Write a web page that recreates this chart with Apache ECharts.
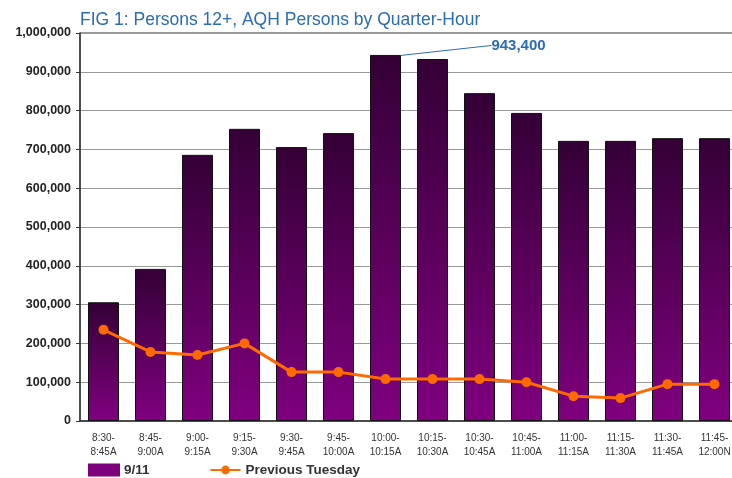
<!DOCTYPE html>
<html>
<head>
<meta charset="utf-8">
<script src="https://cdn.jsdelivr.net/npm/echarts@6/dist/echarts.min.js"></script>
<style>
  html, body { margin: 0; padding: 0; background: #fff; }
  #chart { width: 732px; height: 478px; }
</style>
</head>
<body>
<div id="chart"></div>
<script>
// quarter-hour slots
const categories = [
  "8:30-\n8:45A", "8:45-\n9:00A", "9:00-\n9:15A", "9:15-\n9:30A", "9:30-\n9:45A",
  "9:45-\n10:00A", "10:00-\n10:15A", "10:15-\n10:30A", "10:30-\n10:45A", "10:45-\n11:00A",
  "11:00-\n11:15A", "11:15-\n11:30A", "11:30-\n11:45A", "11:45-\n12:00N"
];
const sept11 = [
  306000, 392000, 686000, 753000, 706000, 742000, 943400,
  933000, 845000, 794000, 722000, 722000, 729000, 729000
];
const prevTuesday = [
  235000, 178000, 170000, 200000, 126000, 126000, 108000,
  108000, 108000, 100000, 64000, 59000, 95000, 95000
];
const peakIndex = 6;

const chart = echarts.init(document.getElementById("chart"));

const barData = sept11.map((v, i) => {
  if (i !== peakIndex) return v;
  return {
    value: v,
    label: {
      show: true,
      position: "top",
      formatter: (p) => p.value.toLocaleString("en-US"),
      color: "#2a6db3",
      fontWeight: "bold",
      fontSize: 15,
      fontFamily: "Arial",
    },
    labelLine: { show: true, lineStyle: { color: "#2a6db3", width: 1 } },
  };
});

chart.setOption({
  animation: false,
  title: {
    text: "FIG 1: Persons 12+, AQH Persons by Quarter-Hour",
    left: 75,
    top: 6,
    textStyle: {
      color: "#2a6db3",
      fontSize: 17.5,
      fontWeight: "normal",
      fontFamily: "Arial",
    },
  },
  grid: {
    left: 80,
    top: 33,
    width: 658,
    height: 388,
    outerBoundsMode: "none",
    show: true,
    borderColor: "#333",
    borderWidth: 1,
  },
  legend: {
    left: 88,
    top: 463,
    padding: 0,
    itemWidth: 30,
    itemHeight: 11,
    itemGap: 60,
    textStyle: {
      color: "#333",
      fontSize: 13.5,
      fontWeight: "bold",
      fontFamily: "Arial",
    },
    data: [
      { name: "9/11", icon: "rect", itemStyle: { color: "#7d007d", borderColor: "#7d007d" } },
      { name: "Previous Tuesday" },
    ],
  },
  xAxis: {
    type: "category",
    data: categories,
    axisLine: { lineStyle: { color: "#333", width: 1.5 } },
    axisTick: { show: false },
    axisLabel: {
      interval: 0,
      color: "#333",
      fontSize: 10,
      lineHeight: 14,
      margin: 10,
      fontFamily: "Arial",
    },
  },
  yAxis: {
    type: "value",
    min: 0,
    max: 1000000,
    interval: 100000,
    axisLine: { show: true, lineStyle: { color: "#333", width: 1.5 } },
    axisTick: { show: true, length: 4, lineStyle: { color: "#333" } },
    axisLabel: {
      color: "#222",
      fontSize: 12.5,
      fontWeight: "bold",
      margin: 9,
      fontFamily: "Arial",
      formatter: (v) => v.toLocaleString("en-US"),
    },
    splitLine: { lineStyle: { color: "#999", width: 1 } },
  },
  series: [
    {
      name: "9/11",
      type: "bar",
      data: barData,
      barCategoryGap: "34%",
      labelLayout: (params) =>
        params.dataIndex === peakIndex ? { dx: 133, dy: 3 } : {},
      itemStyle: {
        borderColor: "#111",
        borderWidth: 1,
        color: new echarts.graphic.LinearGradient(0, 0, 0, 1, [
          { offset: 0, color: "#340036" },
          { offset: 1, color: "#800080" },
        ]),
      },
    },
    {
      name: "Previous Tuesday",
      type: "line",
      data: prevTuesday,
      symbol: "circle",
      symbolSize: 10,
      z: 5,
      lineStyle: { color: "#ff6a00", width: 3 },
      itemStyle: { color: "#ff6a00" },
    },
  ],
});
</script>
</body>
</html>
